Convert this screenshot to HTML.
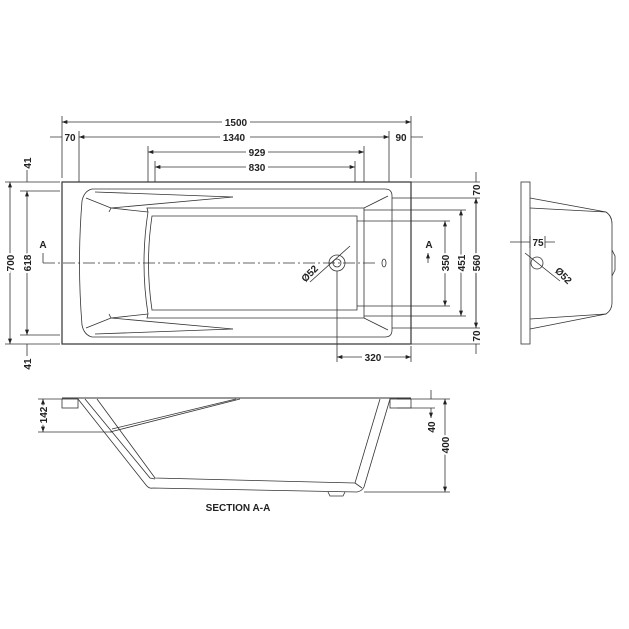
<!DOCTYPE html>
<html><head><style>body{margin:0;background:#fff}svg{display:block}text{font-family:"Liberation Sans",sans-serif;font-size:10px;font-weight:bold;fill:#222}</style></head><body>
<svg width="629" height="629" viewBox="0 0 629 629" xmlns="http://www.w3.org/2000/svg">
<defs><marker id="a" viewBox="0 0 8 6" refX="8" refY="3" markerWidth="7" markerHeight="5" orient="auto-start-reverse"><path d="M0,0L8,3L0,6z" fill="#222"/></marker></defs>
<g stroke="#333" stroke-width="0.8" fill="none">
<!-- top view outer -->
<rect x="62" y="182" width="349" height="162" stroke-width="1.2"/>
<path d="M92,189 L385,189 Q392,189 392,196 L392,330 Q392,337 385,337 L92,337 Q84,335 82,325 Q77,263 82,201 Q84,191 92,189Z"/>
<path d="M95,192 L233,197 M95,334 L233,329"/>
<path d="M86,198 L111,208 L148,212 M86,328 L111,318 L148,314 M111,208 L109,212 M111,318 L109,314"/>
<path d="M148,212 L147,208 L364,208 L388,196 M148,314 L147,318 L364,318 L388,330 M364,208 L364,318"/>
<path d="M152,216 Q145,263 152,310 L357,310 L357,216Z"/>
<path d="M148,212 Q140,263 148,314"/>
<path d="M111,208 L233,197 M111,318 L233,329"/>
<!-- centre line -->
<path d="M43,263 L378,263" stroke-dasharray="12,3,2,3"/>
<path d="M43,263 V253 M428,263 V253" marker-end="url(#a)"/>
<circle cx="337" cy="263" r="8"/><circle cx="337" cy="263" r="4"/>
<ellipse cx="384" cy="263" rx="2" ry="4"/>
<path d="M310,282 L350,246"/>
<!-- top dims -->
<path d="M62,178 V116 M411,178 V116 M79,182 V131 M389,182 V131 M148,182 V146 M364,182 V146 M155,182 V161 M355,182 V161"/>
<path d="M62,122 H411" marker-start="url(#a)" marker-end="url(#a)"/>
<path d="M79,137 H389" marker-start="url(#a)" marker-end="url(#a)"/>
<path d="M50,137 H62 M411,137 H423"/>
<path d="M148,152 H364" marker-start="url(#a)" marker-end="url(#a)"/>
<path d="M155,167 H355" marker-start="url(#a)" marker-end="url(#a)"/>
<!-- left dims -->
<path d="M5,182 H60 M5,344 H60 M20,191 H60 M20,335 H60"/>
<path d="M10,182 V344" marker-start="url(#a)" marker-end="url(#a)"/>
<path d="M27,191 V335" marker-start="url(#a)" marker-end="url(#a)"/>
<path d="M27,170 V182 M27,344 V356"/>
<!-- right dims -->
<path d="M411,182 H480 M392,198 H480 M392,328 H480 M411,344 H480 M364,210 H466 M364,316 H466 M357,221 H450 M357,306 H450"/>
<path d="M476,172 V182 M476,198 V328 M476,344 V354"/>
<path d="M476,198 V328" marker-start="url(#a)" marker-end="url(#a)"/>
<path d="M461,210 V316" marker-start="url(#a)" marker-end="url(#a)"/>
<path d="M445,221 V306" marker-start="url(#a)" marker-end="url(#a)"/>
<path d="M337,271 V362 M411,346 V362"/>
<path d="M337,357 H411" marker-start="url(#a)" marker-end="url(#a)"/>
<!-- side view -->
<rect x="521" y="182" width="9" height="162"/>
<path d="M530,198 L606,212 Q612,216 612,224 L612,303 Q612,310 606,314 L530,329"/>
<path d="M530,208 L606,212 M530,319 L606,314"/>
<path d="M612,250 L615,256 L615,270 L612,276"/>
<circle cx="537" cy="263" r="6"/>
<path d="M530,236 V248 M545,236 V248 M510,242 H530 M545,242 H555"/>
<path d="M525,253 L560,281"/>
<!-- section -->
<path d="M62,398 H411" stroke-width="1"/>
<rect x="62" y="399" width="16" height="9"/><rect x="390" y="399" width="21" height="9"/>
<path d="M78,399 L146,485 Q149,489 153,488 L357,492 Q362,491 364,487 L390,399"/>
<path d="M85,399 L150,478 L155,479 M97,399 L155,478 L355,483 L380,399 M355,483 L362,488"/>
<path d="M110,432 L240,399 M112,429 L236,399"/>
<path d="M328,492 L330,496 L343,496 L345,492"/>
<path d="M38,399 H62 M38,432 H112 M397,399 H450 M397,408 H435 M364,492 H450"/>
<path d="M43,399 V432" marker-start="url(#a)" marker-end="url(#a)"/>
<path d="M431,390 V399 M431,408 V418" marker-end="url(#a)"/>
<path d="M445,399 V492" marker-start="url(#a)" marker-end="url(#a)"/>
</g>
<g>
<rect x="222" y="117" width="28" height="10" fill="#fff"/><text x="236" y="126" text-anchor="middle">1500</text>
<rect x="220" y="132" width="30" height="10" fill="#fff"/><text x="234" y="141" text-anchor="middle">1340</text>
<text x="70" y="141" text-anchor="middle">70</text><text x="401" y="141" text-anchor="middle">90</text>
<rect x="246" y="147" width="22" height="10" fill="#fff"/><text x="257" y="156" text-anchor="middle">929</text>
<rect x="246" y="162" width="22" height="10" fill="#fff"/><text x="257" y="171" text-anchor="middle">830</text>
<text x="43" y="248" text-anchor="middle">A</text><text x="429" y="248" text-anchor="middle">A</text>
<text transform="translate(14,263) rotate(-90)" text-anchor="middle" style="paint-order:stroke" stroke="#fff" stroke-width="4">700</text>
<text transform="translate(31,263) rotate(-90)" text-anchor="middle" style="paint-order:stroke" stroke="#fff" stroke-width="4">618</text>
<text transform="translate(31,163) rotate(-90)" text-anchor="middle">41</text>
<text transform="translate(31,364) rotate(-90)" text-anchor="middle">41</text>
<text transform="translate(480,190) rotate(-90)" text-anchor="middle">70</text>
<text transform="translate(480,336) rotate(-90)" text-anchor="middle">70</text>
<text transform="translate(480,263) rotate(-90)" text-anchor="middle" style="paint-order:stroke" stroke="#fff" stroke-width="4">560</text>
<text transform="translate(465,263) rotate(-90)" text-anchor="middle" style="paint-order:stroke" stroke="#fff" stroke-width="4">451</text>
<text transform="translate(449,263) rotate(-90)" text-anchor="middle" style="paint-order:stroke" stroke="#fff" stroke-width="4">350</text>
<text transform="translate(312,276) rotate(-45)" text-anchor="middle">Ø52</text>
<text transform="translate(561,278) rotate(45)" text-anchor="middle">Ø52</text>
<text x="538" y="246" text-anchor="middle">75</text>
<rect x="362" y="352" width="22" height="10" fill="#fff"/><text x="373" y="361" text-anchor="middle">320</text>
<text transform="translate(47,415) rotate(-90)" text-anchor="middle" style="paint-order:stroke" stroke="#fff" stroke-width="4">142</text>
<text transform="translate(435,427) rotate(-90)" text-anchor="middle">40</text>
<text transform="translate(449,445) rotate(-90)" text-anchor="middle" style="paint-order:stroke" stroke="#fff" stroke-width="4">400</text>
<text x="238" y="511" text-anchor="middle">SECTION A-A</text>
</g>
</svg>
</body></html>
